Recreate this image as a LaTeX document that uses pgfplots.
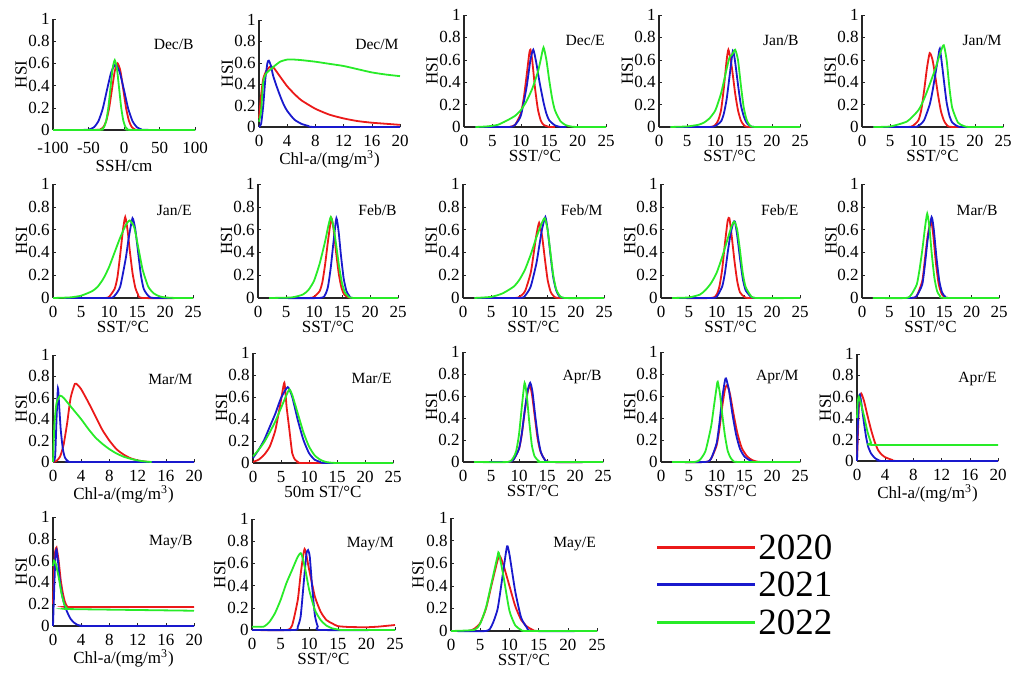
\documentclass[border=0pt]{standalone}
\usepackage{pgfplots}
\pgfplotsset{compat=1.18}
\usepackage{fontspec}
\setmainfont{Liberation Serif}
\definecolor{cR}{RGB}{235,25,25}
\definecolor{cB}{RGB}{25,25,205}
\definecolor{cG}{RGB}{40,235,40}
\pgfplotsset{
  hsi/.style={scale only axis, anchor=south west, ymin=0, ymax=1,
    ytick={0,0.2,0.4,0.6,0.8,1}, yticklabels={0,0.2,0.4,0.6,0.8,1},
    axis x line*=bottom, axis y line*=left, axis line style={-, line width=0.6pt, black!85},
    tick align=inside, major tick length=1.5pt, tick style={black!85},
    clip=false, ylabel={HSI},
    /pgf/number format/assume math mode=true,
    every tick label/.append style={font=\fontsize{8.5}{10}\selectfont},
    yticklabel style={inner sep=0.5pt, xshift=-1pt},
    xticklabel style={inner sep=0.5pt, yshift=-3.4pt},
    ylabel style={at={(axis description cs:-0.225,0.5)}, anchor=center, font=\fontsize{8.5}{10}\selectfont},
    xlabel style={inner sep=1pt, yshift=-0.3pt, font=\fontsize{8.5}{10}\selectfont},
    every axis plot/.append style={line width=0.9pt, smooth, tension=0.35},
  },
  sst/.style={xmin=0, xmax=25, xtick={0,5,10,15,20,25}, xticklabels={0,5,10,15,20,25}, xlabel={SST/°C}},
  chl/.style={xmin=0, xmax=20, xtick={0,4,8,12,16,20}, xticklabels={0,4,8,12,16,20}, xlabel={Chl-a/(mg/m\textsuperscript{3})}},
}
\newcommand{\ttl}[1]{\node[anchor=east, font=\fontsize{7.8}{9}\selectfont] at (rel axis cs:1.04,0.77) {#1};}
\begin{document}
\begin{tikzpicture}[font=\fontsize{7.5}{9}\selectfont]
\useasboundingbox (0,0) rectangle (510.5pt,336.5pt);
% ---------------- Row 1 ----------------
\begin{axis}[hsi, at={(26.5pt,271.5pt)}, width=71pt, height=55.5pt,
  xmin=-100, xmax=100, xtick={-100,-50,0,50,100}, xticklabels={-100,-50,0,50,100}, xlabel={SSH/cm},
  xticklabel style={yshift=-1.8pt}, xlabel style={yshift=-1.6pt}]
\addplot[cR] coordinates {(-100,0)(-37,0.001)(-33,0.007)(-29,0.026)(-25,0.081)(-21,0.195)(-17,0.364)(-13,0.53)(-9,0.6)(-5,0.53)(-1,0.364)(3,0.195)(7,0.081)(11,0.026)(15,0.007)(19,0.001)(100,0)};
\addplot[cB] coordinates {(-100,0)(-54,0.001)(-48,0.007)(-42,0.026)(-36,0.08)(-30,0.19)(-24,0.36)(-18,0.52)(-12,0.59)(-6,0.52)(0,0.36)(6,0.19)(12,0.08)(18,0.026)(24,0.007)(30,0.001)(100,0)};
\addplot[cG] coordinates {(-100,0)(-34,0.001)(-31,0.007)(-28,0.028)(-25,0.085)(-22,0.205)(-19,0.382)(-16,0.556)(-13,0.63)(-10,0.556)(-7,0.382)(-4,0.205)(-1,0.085)(2,0.028)(5,0.007)(8,0.001)(100,0)};
\ttl{Dec/B}
\end{axis}
\begin{axis}[hsi, chl, at={(129.5pt,273pt)}, width=70.5pt, height=53.5pt]
\addplot[cR] coordinates {(0,0.08)(0.3,0.3)(0.6,0.45)(1,0.52)(1.5,0.56)(2,0.56)(3,0.47)(4,0.38)(5,0.31)(6,0.25)(8,0.17)(10,0.115)(12,0.08)(14,0.055)(16,0.04)(18,0.03)(20,0.02)};
\addplot[cB] coordinates {(0,0)(0.3,0.03)(0.6,0.2)(0.9,0.45)(1.2,0.6)(1.4,0.62)(1.7,0.57)(2,0.48)(2.5,0.38)(3,0.29)(3.5,0.21)(4,0.15)(5,0.07)(6,0.03)(7,0.01)(8,0)(20,0)};
\addplot[cG] coordinates {(0,0.05)(0.3,0.15)(0.6,0.42)(1,0.5)(1.5,0.53)(2,0.56)(3,0.61)(4,0.63)(5,0.63)(6,0.625)(8,0.61)(10,0.59)(12,0.57)(14,0.54)(16,0.51)(18,0.49)(20,0.475)};
\ttl{Dec/M}
\end{axis}
\begin{axis}[hsi, sst, at={(232pt,273pt)}, width=71pt, height=56pt]
\addplot[cR] coordinates {(8,0)(9,0.02)(10,0.12)(10.5,0.25)(11,0.45)(11.5,0.66)(11.7,0.69)(12,0.6)(12.5,0.35)(13,0.16)(13.5,0.06)(14,0.02)(15,0)(16,0)};
\addplot[cB] coordinates {(2,0)(8,0)(9,0.02)(10,0.1)(11,0.35)(11.7,0.6)(12.2,0.69)(12.7,0.58)(13.3,0.4)(14,0.22)(14.5,0.12)(15,0.06)(16,0.015)(17,0)(18,0)};
\addplot[cG] coordinates {(2,0)(4,0.005)(6,0.02)(8,0.07)(9,0.1)(10,0.15)(11,0.23)(12,0.34)(13,0.49)(13.5,0.6)(14,0.71)(14.5,0.6)(15,0.42)(15.5,0.26)(16,0.15)(17,0.05)(18,0.015)(19,0.003)(20,0)(25,0)};
\ttl{Dec/E}
\end{axis}
\begin{axis}[hsi, sst, at={(329.5pt,273pt)}, width=70.5pt, height=56pt]
\addplot[cR] coordinates {(2,0)(9,0)(10,0.02)(10.5,0.06)(11,0.15)(11.5,0.35)(12,0.6)(12.3,0.69)(12.7,0.6)(13,0.5)(13.5,0.3)(14,0.15)(14.5,0.06)(15,0.02)(16,0)(25,0)};
\addplot[cB] coordinates {(2,0)(9,0)(10,0.01)(11,0.05)(11.5,0.12)(12,0.25)(12.5,0.45)(13.1,0.68)(13.5,0.58)(14,0.38)(14.5,0.2)(15,0.1)(15.5,0.04)(16,0.015)(17,0)(25,0)};
\addplot[cG] coordinates {(2,0)(5,0.005)(7,0.02)(8,0.04)(9,0.08)(10,0.15)(11,0.3)(12,0.52)(12.5,0.62)(13,0.65)(13.5,0.69)(14,0.6)(14.5,0.38)(15,0.18)(15.5,0.07)(16,0.02)(17,0)(25,0)};
\ttl{Jan/B}
\end{axis}
\begin{axis}[hsi, sst, at={(431pt,273pt)}, width=70.5pt, height=56pt]
\addplot[cR] coordinates {(2,0)(8,0)(9,0.01)(10,0.06)(10.5,0.15)(11,0.32)(11.5,0.52)(12,0.66)(12.5,0.6)(13,0.45)(13.5,0.28)(14,0.14)(14.5,0.06)(15,0.02)(16,0)(25,0)};
\addplot[cB] coordinates {(2,0)(9,0)(10,0.01)(11,0.06)(12,0.2)(12.5,0.32)(13,0.47)(13.5,0.62)(13.8,0.7)(14.2,0.55)(14.6,0.38)(15,0.22)(15.5,0.1)(16,0.04)(17,0.005)(18,0)(25,0)};
\addplot[cG] coordinates {(2,0)(5,0.005)(8,0.05)(10,0.15)(11,0.25)(12,0.38)(13,0.52)(14,0.68)(14.5,0.73)(15,0.6)(15.5,0.35)(16,0.17)(17,0.04)(18,0.01)(19,0)(25,0)};
\ttl{Jan/M}
\end{axis}
% ---------------- Row 2 ----------------
\begin{axis}[hsi, sst, at={(26.5pt,187.5pt)}, width=70pt, height=57pt]
\addplot[cR] coordinates {(2,0)(9,0)(10,0.01)(11,0.08)(11.5,0.18)(12,0.38)(12.5,0.6)(12.9,0.71)(13.3,0.6)(13.7,0.42)(14.2,0.22)(14.7,0.09)(15.2,0.03)(16,0)(25,0)};
\addplot[cB] coordinates {(2,0)(10,0)(11,0.02)(12,0.1)(13,0.35)(13.5,0.52)(14.2,0.7)(14.7,0.6)(15.2,0.4)(15.7,0.2)(16.2,0.08)(17,0.02)(18,0)(25,0)};
\addplot[cG] coordinates {(0,0)(3,0.005)(5,0.02)(7,0.06)(8,0.1)(9,0.17)(10,0.27)(11,0.4)(12,0.53)(13,0.64)(13.7,0.68)(14.5,0.62)(15.2,0.45)(16,0.25)(17,0.1)(18,0.04)(19,0.015)(20,0.005)(22,0)(25,0)};
\ttl{Jan/E}
\end{axis}
\begin{axis}[hsi, sst, at={(129pt,187.5pt)}, width=70pt, height=57pt]
\addplot[cR] coordinates {(2,0)(9,0)(10,0.01)(11,0.06)(11.5,0.14)(12,0.3)(12.5,0.5)(13.1,0.7)(13.5,0.6)(13.9,0.42)(14.4,0.22)(14.9,0.09)(15.4,0.03)(16,0.01)(17,0)(25,0)};
\addplot[cB] coordinates {(2,0)(11,0)(12,0.03)(12.5,0.1)(13,0.27)(13.5,0.5)(14,0.7)(14.4,0.58)(14.8,0.38)(15.3,0.17)(15.8,0.06)(16.3,0.02)(17,0)(25,0)};
\addplot[cG] coordinates {(2,0)(6,0.005)(8,0.03)(9,0.07)(10,0.15)(11,0.3)(12,0.5)(12.5,0.62)(13,0.71)(13.5,0.62)(14,0.45)(14.5,0.27)(15,0.13)(15.5,0.05)(16,0.02)(17,0)(25,0)};
\ttl{Feb/B}
\end{axis}
\begin{axis}[hsi, sst, at={(231.5pt,187.5pt)}, width=70.5pt, height=57pt]
\addplot[cR] coordinates {(2,0)(9,0)(10,0.01)(11,0.06)(12,0.22)(12.5,0.38)(13,0.55)(13.5,0.66)(14,0.55)(14.5,0.35)(15,0.16)(15.5,0.06)(16,0.02)(17,0)(25,0)};
\addplot[cB] coordinates {(2,0)(10,0)(11,0.02)(12,0.1)(13,0.3)(13.5,0.45)(14,0.6)(14.6,0.71)(15,0.6)(15.5,0.38)(16,0.18)(16.5,0.07)(17,0.02)(18,0)(25,0)};
\addplot[cG] coordinates {(2,0)(5,0.01)(7,0.04)(9,0.1)(10,0.16)(11,0.25)(12,0.38)(13,0.53)(14,0.66)(14.5,0.7)(15,0.6)(15.5,0.4)(16,0.2)(16.5,0.08)(17,0.03)(18,0)(25,0)};
\ttl{Feb/M}
\end{axis}
\begin{axis}[hsi, sst, at={(330.5pt,187.5pt)}, width=69.5pt, height=57pt]
\addplot[cR] coordinates {(2,0)(9,0)(10,0.03)(10.5,0.1)(11,0.25)(11.5,0.48)(12,0.68)(12.3,0.7)(12.7,0.55)(13.2,0.33)(13.7,0.15)(14.2,0.05)(15,0.01)(16,0)(25,0)};
\addplot[cB] coordinates {(2,0)(9,0)(10,0.01)(11,0.1)(11.5,0.22)(12,0.4)(12.5,0.56)(13,0.66)(13.3,0.67)(13.7,0.55)(14.2,0.35)(14.7,0.17)(15.2,0.07)(16,0.02)(17,0)(25,0)};
\addplot[cG] coordinates {(2,0)(5,0.005)(7,0.03)(8,0.07)(9,0.13)(10,0.22)(11,0.36)(12,0.52)(12.7,0.63)(13.2,0.67)(13.7,0.6)(14.2,0.42)(14.7,0.22)(15.2,0.1)(16,0.03)(17,0)(25,0)};
\ttl{Feb/E}
\end{axis}
\begin{axis}[hsi, sst, at={(431pt,187.5pt)}, width=68.5pt, height=57pt]
\addplot[cR] coordinates {(2,0)(9,0)(10,0.02)(11,0.15)(11.5,0.35)(12,0.55)(12.6,0.68)(13,0.55)(13.5,0.3)(14,0.12)(14.5,0.04)(15,0.01)(16,0)(25,0)};
\addplot[cB] coordinates {(2,0)(9,0)(10,0.02)(11,0.12)(11.5,0.3)(12,0.52)(12.7,0.71)(13.1,0.6)(13.6,0.35)(14.1,0.15)(14.6,0.05)(15.2,0.01)(16,0)(25,0)};
\addplot[cG] coordinates {(2,0)(8,0)(9,0.03)(10,0.12)(10.5,0.25)(11,0.42)(11.5,0.62)(11.9,0.74)(12.3,0.62)(12.7,0.4)(13.2,0.18)(13.7,0.06)(14.2,0.02)(15,0)(25,0)};
\ttl{Mar/B}
\end{axis}
% ---------------- Row 3 ----------------
\begin{axis}[hsi, chl, at={(26.5pt,105.5pt)}, width=70.5pt, height=53.5pt]
\addplot[cR] coordinates {(0,0)(0.5,0.01)(1,0.05)(1.5,0.16)(2,0.36)(2.5,0.6)(3.1,0.73)(3.5,0.72)(4,0.68)(5,0.56)(6,0.43)(7,0.3)(8,0.2)(9,0.12)(10,0.07)(11,0.035)(12,0.015)(13,0.005)(14,0)(20,0)};
\addplot[cB] coordinates {(0,0)(0.3,0.05)(0.5,0.4)(0.7,0.69)(0.9,0.5)(1.1,0.3)(1.4,0.12)(1.7,0.04)(2.1,0.01)(3,0)(20,0)};
\addplot[cG] coordinates {(0,0)(0.2,0.35)(0.5,0.55)(1,0.62)(1.5,0.6)(2,0.56)(3,0.48)(4,0.4)(5,0.31)(6,0.23)(7,0.17)(8,0.12)(9,0.08)(10,0.05)(11,0.03)(12,0.015)(13,0.005)(14,0)};
\ttl{Mar/M}
\end{axis}
\begin{axis}[hsi, at={(126.5pt,105pt)}, width=70pt, height=55pt,
  xmin=0, xmax=25, xtick={0,5,10,15,20,25}, xticklabels={0,5,10,15,20,25}, xlabel={50m ST/°C}]
\addplot[cR] coordinates {(0,0.01)(1,0.03)(2,0.075)(3,0.15)(4,0.3)(5,0.57)(5.6,0.73)(6,0.51)(6.5,0.3)(7,0.09)(7.5,0.03)(8,0.01)(9,0)(25,0)};
\addplot[cB] coordinates {(0,0.045)(1,0.12)(2,0.21)(3,0.33)(4,0.45)(5,0.59)(6.2,0.69)(7,0.6)(8,0.39)(9,0.21)(10,0.09)(11,0.03)(12,0.01)(13,0)(25,0)};
\addplot[cG] coordinates {(0,0.06)(1,0.12)(2,0.19)(3,0.28)(4,0.38)(5,0.5)(6,0.62)(6.5,0.67)(7,0.62)(8,0.45)(9,0.28)(10,0.15)(11,0.07)(12,0.03)(13,0.01)(15,0)(25,0)};
\ttl{Mar/E}
\end{axis}
\begin{axis}[hsi, sst, at={(231.5pt,105.5pt)}, width=70pt, height=55pt]
\addplot[cR] coordinates {(2,0)(8,0)(9,0.02)(10,0.12)(10.5,0.25)(11,0.45)(11.5,0.62)(11.9,0.7)(12.3,0.62)(12.8,0.42)(13.3,0.22)(13.8,0.1)(14.5,0.03)(15.5,0)(25,0)};
\addplot[cB] coordinates {(2,0)(8,0)(9,0.02)(10,0.12)(10.5,0.26)(11,0.46)(11.5,0.64)(12,0.72)(12.4,0.64)(12.9,0.42)(13.4,0.22)(13.9,0.09)(14.5,0.03)(15.5,0)(25,0)};
\addplot[cG] coordinates {(2,0)(8,0)(9,0.04)(9.5,0.1)(10,0.25)(10.5,0.5)(11,0.72)(11.4,0.6)(11.8,0.38)(12.3,0.15)(12.8,0.05)(13.5,0.01)(14,0)(25,0)};
\ttl{Apr/B}
\end{axis}
\begin{axis}[hsi, sst, at={(330.5pt,105.5pt)}, width=69.5pt, height=55pt]
\addplot[cR] coordinates {(2,0)(8,0)(9,0.03)(10,0.15)(10.5,0.3)(11,0.5)(11.5,0.66)(11.9,0.7)(12.4,0.62)(13,0.45)(13.7,0.27)(14.5,0.13)(15.5,0.05)(16.5,0.015)(18,0)(25,0)};
\addplot[cB] coordinates {(2,0)(8,0)(9,0.03)(10,0.17)(10.5,0.35)(11,0.58)(11.5,0.74)(11.7,0.76)(12.2,0.66)(12.8,0.45)(13.5,0.25)(14.2,0.12)(15,0.05)(16,0.015)(17,0)(25,0)};
\addplot[cG] coordinates {(2,0)(6,0)(7,0.02)(8,0.1)(9,0.32)(9.5,0.5)(10,0.68)(10.2,0.73)(10.6,0.62)(11,0.44)(11.5,0.24)(12,0.1)(12.5,0.04)(13,0.01)(14,0)(25,0)};
\ttl{Apr/M}
\end{axis}
\begin{axis}[hsi, chl, at={(428.5pt,106pt)}, width=70.5pt, height=53.5pt]
\addplot[cR] coordinates {(0,0)(0.15,0.3)(0.3,0.55)(0.6,0.63)(1,0.56)(1.5,0.42)(2,0.29)(2.5,0.18)(3,0.1)(3.5,0.06)(4,0.035)(5,0.01)(6,0)(20,0)};
\addplot[cB] coordinates {(0,0)(0.1,0.3)(0.25,0.58)(0.4,0.62)(0.6,0.55)(0.8,0.45)(1,0.35)(1.3,0.22)(1.6,0.13)(2,0.07)(2.5,0.03)(3,0.01)(4,0)(20,0)};
\addplot[cG] coordinates {(0,0.4)(0.1,0.55)(0.25,0.6)(0.5,0.55)(1,0.42)(1.5,0.27)(2,0.17)(2.4,0.15)(20,0.15)};
\ttl{Apr/E}
\end{axis}
% ---------------- Row 4 ----------------
\begin{axis}[hsi, chl, at={(26.5pt,23.5pt)}, width=70.5pt, height=54.5pt]
\addplot[cR] coordinates {(0,0.2)(0.15,0.5)(0.3,0.68)(0.5,0.72)(0.8,0.6)(1.1,0.42)(1.4,0.3)(1.7,0.22)(2,0.18)(2.5,0.175)(20,0.175)};
\addplot[cB] coordinates {(0,0)(0.15,0.3)(0.35,0.65)(0.5,0.7)(0.7,0.6)(1,0.4)(1.3,0.28)(1.6,0.2)(2,0.13)(2.5,0.065)(3,0.03)(3.5,0.01)(4,0.003)(5,0)(20,0)};
\addplot[cG] coordinates {(0,0.55)(0.15,0.6)(0.4,0.57)(0.8,0.45)(1.2,0.3)(1.6,0.2)(2,0.16)(2.5,0.155)(20,0.14)};
\ttl{May/B}
\end{axis}
\begin{axis}[hsi, sst, at={(126pt,21.5pt)}, width=71.5pt, height=55.5pt]
\addplot[cR] coordinates {(0,0)(6,0)(7,0.04)(8,0.27)(8.5,0.5)(9.2,0.73)(10,0.54)(11,0.3)(12,0.165)(13,0.09)(14,0.06)(15,0.035)(17,0.027)(20,0.025)(22,0.03)(25,0.045)};
\addplot[cB] coordinates {(0,0)(7.5,0)(8,0.03)(8.5,0.12)(9,0.4)(9.5,0.68)(9.8,0.72)(10.1,0.66)(10.5,0.4)(11,0.13)(11.5,0.03)(12,0)(25,0)};
\addplot[cG] coordinates {(0,0.03)(2,0.03)(3,0.07)(4,0.15)(5,0.27)(6,0.42)(7,0.54)(8,0.66)(8.6,0.69)(9.3,0.55)(10,0.36)(11,0.18)(12,0.09)(13,0.04)(14,0.015)(15,0.005)(16,0)(25,0)};
\ttl{May/M}
\end{axis}
\begin{axis}[hsi, sst, at={(225.5pt,21pt)}, width=73pt, height=56.5pt]
\addplot[cR] coordinates {(0,0)(3,0)(4,0.02)(5,0.07)(6,0.2)(7,0.42)(8,0.63)(8.4,0.66)(9,0.58)(10,0.4)(11,0.22)(12,0.1)(13,0.04)(14,0.01)(15,0)(25,0)};
\addplot[cB] coordinates {(0,0)(6,0)(7,0.05)(8,0.2)(9,0.55)(9.6,0.75)(10,0.68)(11,0.35)(12,0.12)(13,0.03)(14,0)(25,0)};
\addplot[cG] coordinates {(0,0)(4,0.01)(5,0.065)(6,0.21)(7,0.44)(8,0.67)(8.2,0.69)(9,0.48)(10,0.18)(11,0.05)(12,0.01)(13,0)(25,0)};
\ttl{May/E}
\end{axis}
% ---------------- Legend ----------------
\begin{axis}[at={(0pt,0pt)}, anchor=south west, scale only axis, width=510.5pt, height=336.5pt,
  xmin=0, xmax=1021, ymin=0, ymax=673, y dir=reverse, hide axis, clip=false]
\addplot[cR, line width=1.5pt] coordinates {(657,547)(755,547)};
\addplot[cB, line width=1.5pt] coordinates {(657,584)(755,584)};
\addplot[cG, line width=1.5pt] coordinates {(657,622)(755,622)};
\node[anchor=west, inner sep=0pt, font=\fontsize{18.5}{20}\selectfont] at (axis cs:758,547) {2020};
\node[anchor=west, inner sep=0pt, font=\fontsize{18.5}{20}\selectfont] at (axis cs:758,584) {2021};
\node[anchor=west, inner sep=0pt, font=\fontsize{18.5}{20}\selectfont] at (axis cs:758,622) {2022};
\end{axis}
\end{tikzpicture}
\end{document}
